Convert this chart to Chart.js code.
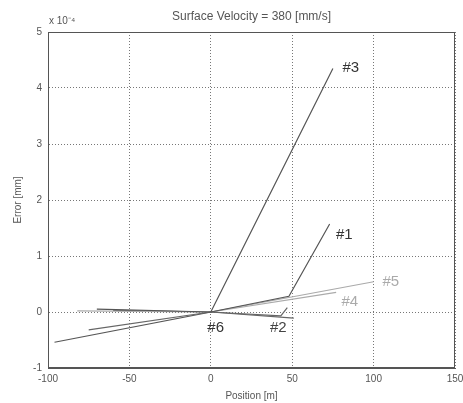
<!DOCTYPE html>
<html><head><meta charset="utf-8">
<script src="https://cdn.jsdelivr.net/npm/chart.js@4"></script>
<style>html,body{margin:0;padding:0;background:#fff}#wrap{width:463px;height:403px}</style>
</head><body><div id="wrap"><canvas id="c"></canvas></div>
<script>
const titleText = 'Surface Velocity = 380 [mm/s]';
const xTitle = 'Position [m]';
const yTitle = 'Error [mm]';
const exponentText = 'x 10\u207B\u2074';
const xTicks = [-100, -50, 0, 50, 100, 150];
const yTicks = [-1, 0, 1, 2, 3, 4, 5];

const seriesNames = ['#1', '#2', '#3', '#4', '#5', '#6'];
const s1X = [-70, 0, 48, 73];   const s1Y = [0.05, 0, 0.28, 1.57];
const s2X = [-75, 0, 43, 47];   const s2Y = [-0.32, 0, -0.07, 0.08];
const s3X = [-96, 0, 75];       const s3Y = [-0.54, 0, 4.35];
const s4X = [-82, 0, 77];       const s4Y = [0.02, 0, 0.35];
const s5X = [0, 100];           const s5Y = [0, 0.54];
const s6X = [-60, 0, 51];       const s6Y = [0.03, 0, -0.11];

const labelX = [82, 41.5, 86, 85.4, 110.6, 3];
const labelY = [1.375, -0.29, 4.36, 0.18, 0.54, -0.29];

const seriesX = [s1X, s2X, s3X, s4X, s5X, s6X];
const seriesY = [s1Y, s2Y, s3Y, s4Y, s5Y, s6Y];
const lineColors = ['#555', '#666', '#555', '#aaa', '#aaa', '#666'];
const labelColors = ['#333', '#444', '#333', '#aaa', '#aaa', '#333'];

const datasets = seriesNames.map((n, i) => ({
  label: n,
  data: seriesX[i].map((x, j) => ({x: x, y: seriesY[i][j]})),
  showLine: true, borderColor: lineColors[i], borderWidth: 1.2,
  pointRadius: 0, fill: false, tension: 0
}));

const FONT = 'Liberation Sans, Arial, sans-serif';

const extras = {
  id: 'extras',
  afterDraw(chart) {
    const {ctx, chartArea: a, scales} = chart;
    ctx.save();
    ctx.strokeStyle = '#555'; ctx.lineWidth = 1;
    ctx.strokeRect(a.left + 0.5, a.top + 0.5, a.right - a.left - 1, a.bottom - a.top - 1);
    ctx.font = '15px ' + FONT; ctx.textAlign = 'center'; ctx.textBaseline = 'middle';
    seriesNames.forEach((n, i) => {
      ctx.fillStyle = labelColors[i];
      ctx.fillText(n, scales.x.getPixelForValue(labelX[i]), scales.y.getPixelForValue(labelY[i]));
    });
    ctx.fillStyle = '#555';
    ctx.font = '12px ' + FONT;
    ctx.fillText(titleText, (a.left + a.right) / 2, 17);
    ctx.font = '10px ' + FONT; ctx.textAlign = 'left'; ctx.textBaseline = 'alphabetic';
    ctx.fillText(exponentText, a.left + 1, a.top - 8);
    ctx.restore();
  }
};

new Chart(document.getElementById('c'), {
  type: 'scatter',
  data: {datasets},
  options: {
    responsive: true, maintainAspectRatio: false, animation: false,
    layout: {padding: {left: 0, right: 8, top: 32, bottom: 0}},
    plugins: {
      legend: {display: false}, tooltip: {enabled: false}, title: {display: false}
    },
    scales: {
      x: {
        type: 'linear', min: -100, max: 150,
        afterBuildTicks: s => { s.ticks = xTicks.map(v => ({value: v})); },
        afterFit: s => { s.height = 35; s.paddingLeft = 0; s.paddingRight = 0; },
        ticks: {color: '#555', font: {family: FONT, size: 10}, padding: 5, maxRotation: 0, autoSkip: false},
        grid: {color: '#777', drawTicks: false, lineWidth: 1},
        border: {color: '#555', dash: [1, 2]},
        title: {display: true, text: xTitle, color: '#555', font: {family: FONT, size: 10}, padding: {top: 0, bottom: 1}}
      },
      y: {
        type: 'linear', min: -1, max: 5,
        afterBuildTicks: s => { s.ticks = yTicks.map(v => ({value: v})); },
        afterFit: s => { s.width = 48; s.paddingTop = 0; s.paddingBottom = 0; },
        ticks: {color: '#555', font: {family: FONT, size: 10}, padding: 6, autoSkip: false},
        grid: {color: '#777', drawTicks: false, lineWidth: 1},
        border: {color: '#555', dash: [1, 2]},
        title: {display: true, text: yTitle, color: '#555', font: {family: FONT, size: 10}, padding: {top: 12, bottom: 0}}
      }
    }
  },
  plugins: [extras]
});
</script></body></html>
